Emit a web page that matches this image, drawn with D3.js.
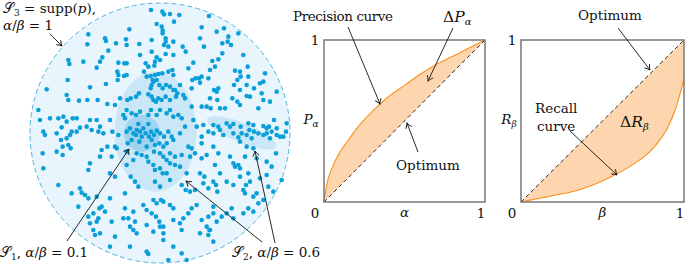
<!DOCTYPE html>
<html><head><meta charset="utf-8">
<script src="https://cdn.jsdelivr.net/npm/d3@7/dist/d3.min.js"></script>
<style>
html,body{margin:0;padding:0;background:#fff;}
</style></head>
<body><svg id="c" width="685" height="264"></svg>
<script>
// ---- Data ----
// sample points in feature space (arbitrary units, 870 x 792 frame)
const points = [
[453,30],[487,35],[492,43],[510,42],[538,45],[627,48],
[470,72],[522,65],[605,82],[672,85],[715,100],[485,80],[488,92],[488,100],[388,88],[650,95],
[265,103],[315,115],[318,123],[348,130],[378,118],[380,135],[418,132],[455,120],[497,115],[497,125],[520,125],[492,135],[505,140],[548,140],[557,155],[600,115],[612,140],[667,130],[683,125],[685,110],[262,133],[325,152],[455,155],[420,165],[693,135],
[470,172],[497,162],[520,165],[437,190],[445,200],[465,185],[463,197],[480,180],[355,188],[380,190],[373,190],[307,172],[300,185],[290,203],[205,180],[208,192],[250,185],[637,183],[655,178],[667,160],[730,165],[743,200],[565,205],[580,188],[597,235],[605,230],[625,235],[630,210],[645,200],[705,212],[720,215],[745,230],
[352,215],[355,225],[353,240],[372,228],[380,225],[432,215],[440,230],[452,228],[465,225],[475,222],[487,220],[505,215],[517,210],[520,225],[470,240],[458,240],[478,255],[455,255],[452,265],[488,265],[498,255],[510,260],[520,270],[540,255],[577,240],[587,235],[600,248],[575,265],[203,240],[270,262],[318,252],[460,245],[642,270],[655,265],[702,255],[712,240],[722,230],[740,255],[762,265],[780,250],[790,245],[795,220],[785,280],[830,275],[720,270],
[140,268],[115,330],[200,285],[205,300],[237,302],[262,300],[293,300],[322,312],[345,315],[360,295],[382,300],[392,295],[408,290],[417,280],[445,283],[455,290],[460,300],[475,295],[468,305],[485,300],[497,290],[510,300],[528,290],[532,280],[525,270],[550,285],[555,295],[575,320],[605,320],[620,320],[630,295],[632,325],[652,300],[660,325],[675,325],[697,295],[712,305],[740,288],[750,290],[790,300],[810,305],[720,315],[775,325],[650,275],
[120,360],[150,355],[175,355],[190,350],[200,365],[218,355],[230,355],[270,360],[290,360],[330,360],[370,345],[375,355],[380,330],[395,340],[408,345],[420,335],[445,345],[453,330],[470,345],[480,330],[500,340],[510,330],[520,350],[535,345],[545,355],[580,360],[555,380],[590,380],[610,375],[640,375],[655,380],[680,370],[690,380],[700,372],[722,380],[745,370],[760,375],[790,378],[800,385],[807,380],[830,385],[860,370],[822,360],[858,395],
[130,395],[135,405],[170,400],[185,382],[200,415],[215,395],[210,405],[183,420],[205,435],[188,440],[212,445],[230,395],[240,383],[260,380],[275,390],[300,380],[295,395],[310,400],[337,395],[355,405],[345,440],[350,445],[322,440],[305,450],[380,395],[390,385],[400,400],[410,390],[420,395],[425,410],[437,400],[447,410],[453,395],[462,405],[470,392],[480,400],[492,410],[505,395],[515,410],[520,420],[540,400],[455,420],[465,435],[478,430],[490,440],[500,430],[440,440],[418,425],[395,420],[383,430],[408,405],[430,385],[445,372],[415,372],
[605,410],[625,395],[640,400],[660,390],[670,405],[700,400],[715,412],[725,400],[740,405],[748,390],[755,415],[762,395],[775,400],[790,405],[800,400],[810,415],[815,395],[830,405],[840,410],[850,410],[720,425],[740,440],[760,445],[605,430],[640,440],[565,440],[575,445],
[128,460],[170,455],[188,465],[270,490],[300,470],[335,470],[380,455],[410,460],[425,465],[440,470],[462,455],[480,460],[490,470],[500,480],[510,460],[525,470],[545,465],[570,470],[585,460],[605,475],[620,465],[655,460],[690,470],[645,495],[700,490],[705,500],[715,495],[720,505],[735,470],[770,475],[800,485],[828,460],[815,500],
[380,495],[400,480],[445,485],[460,495],[465,510],[480,505],[488,520],[500,520],[510,490],[525,495],[540,500],[560,520],[600,520],[613,530],[660,520],[745,520],[720,530],[750,545],[780,535],[800,525],[265,510],[130,505],[175,555],[330,520],[345,530],[392,530],
[405,545],[415,560],[465,545],[480,560],[510,540],[545,555],[557,570],[570,575],[585,570],[610,550],[625,565],[640,545],[648,555],[652,575],[680,545],[700,555],[735,580],[730,570],[738,555],[770,580],[805,560],[820,575],[845,540],[240,565],[245,578],[255,585],[265,595],[290,590],[330,595],[375,580],[235,620],[215,580],
[460,600],[470,610],[483,600],[490,605],[430,615],[440,630],[510,615],[520,625],[375,625],[370,655],[400,635],[385,655],[405,665],[305,620],[315,635],[298,625],[280,640],[295,655],[265,650],[270,670],[290,665],[335,665],[390,680],[455,640],[468,650],[478,665],[480,680],[490,680],[520,660],[540,670],[550,655],[565,640],[575,625],[590,615],[605,660],[625,650],[640,620],[640,640],[650,665],[665,650],[680,640],[695,625],[700,655],[730,640],[745,625],[760,635],[628,690],[620,680],[760,590],[775,610],[790,600],
[280,690],[285,705],[300,700],[345,710],[400,690],[410,700],[440,675],[460,695],[490,700],[545,690],[600,700],[625,705],[640,725],[440,755],[445,762],[390,740],[330,740],[490,720],[520,740],[545,760],[630,690],[560,780],[505,780]
];
// support regions (feature space)
const supportCircle = {cx:480, cy:399, r:390};
const regionS2 = {cx:467, cy:395, rx:123, ry:180, rot:0};
const regionS1 = {cx:426, cy:400, rx:54, ry:55, rot:0};
const regionS2b = {cx:725, cy:398, rx:112, ry:30, rot:22};

// precision curve
const alphaVals = [0,0.02,0.05,0.1,0.15,0.2,0.3,0.4,0.5,0.6,0.7,0.8,0.9,1];
const precVals  = [0,0.12,0.21,0.31,0.38,0.45,0.56,0.65,0.72,0.79,0.85,0.9,0.95,1];
// recall curve
const betaVals  = [0,0.1,0.2,0.3,0.4,0.5,0.6,0.7,0.8,0.85,0.9,0.95,1];
const recVals   = [0,0.02,0.04,0.06,0.09,0.13,0.18,0.24,0.32,0.38,0.46,0.58,0.76];
const tickLabels = ["0","1"];

// ---- Drawing ----
const FONT = "'DejaVu Serif', 'Liberation Serif', serif";
const svg = d3.select("#c").attr("font-family", FONT);
const defs = svg.append("defs");
defs.append("marker").attr("id","arr").attr("viewBox","-6 -5 7 10")
  .attr("refX",0).attr("refY",0).attr("markerWidth",7).attr("markerHeight",10)
  .attr("markerUnits","userSpaceOnUse").attr("orient","auto")
  .append("path").attr("d","M-5,-3.2 Q-2,-0.6 0,0 Q-2,0.6 -5,3.2")
  .attr("fill","none").attr("stroke","#111").attr("stroke-width",0.9);

function arrow(x1,y1,x2,y2){
  svg.append("line").attr("x1",x1).attr("y1",y1).attr("x2",x2).attr("y2",y2)
    .attr("stroke","#111").attr("stroke-width",0.9).attr("marker-end","url(#arr)");
}
function txt(x,y,size){
  return svg.append("text").attr("x",x).attr("y",y).attr("font-size",size)
    .attr("font-family",FONT).attr("fill","#111");
}

// left panel
const fx = d3.scaleLinear().domain([0,870]).range([0,290]);
const fy = d3.scaleLinear().domain([0,792]).range([0,264]);
const fr = v => fx(v) - fx(0);
const left = svg.append("g");
left.append("circle").attr("cx",fx(supportCircle.cx)).attr("cy",fy(supportCircle.cy)).attr("r",fr(supportCircle.r))
  .attr("fill","#e9f5fc").attr("stroke","#4fb3e0").attr("stroke-width",1).attr("stroke-dasharray","5,3");
function ell(e,fill){
  left.append("ellipse").attr("cx",0).attr("cy",0).attr("rx",fr(e.rx)).attr("ry",fr(e.ry))
    .attr("transform",`translate(${fx(e.cx)},${fy(e.cy)}) rotate(${e.rot})`)
    .attr("fill",fill);
}
ell(regionS2,"rgba(120,195,235,0.28)");
ell(regionS2b,"rgba(120,195,235,0.28)");
ell(regionS1,"rgba(80,175,225,0.35)");
left.selectAll("circle.pt").data(points).join("circle").attr("class","pt")
  .attr("cx",d=>fx(d[0])).attr("cy",d=>fy(d[1])).attr("r",2.3).attr("fill","#0a9fd8");

// left labels
const fs = 13.5;
const t3 = txt(3,13,fs);
t3.append("tspan").text("𝒮");
t3.append("tspan").attr("font-size",9).attr("dy",3).text("3");
t3.append("tspan").attr("dy",-3).text(" = supp(");
t3.append("tspan").attr("font-style","italic").text("p");
t3.append("tspan").text("),");
const t3b = txt(3,30,fs);
t3b.append("tspan").attr("font-style","italic").text("α");
t3b.append("tspan").text("/");
t3b.append("tspan").attr("font-style","italic").text("β");
t3b.append("tspan").text(" = 1");
arrow(50,34,62,46);

function sLabel(x,y,sub,val){
  const t = txt(x,y,fs);
  t.append("tspan").text("𝒮");
  t.append("tspan").attr("font-size",9).attr("dy",3).text(sub);
  t.append("tspan").attr("dy",-3).text(", ");
  t.append("tspan").attr("font-style","italic").text("α");
  t.append("tspan").text("/");
  t.append("tspan").attr("font-style","italic").text("β");
  t.append("tspan").text(" = " + val);
}
sLabel(0,257,"1","0.1");
sLabel(232,257,"2","0.6");
arrow(67,241,129,149);
arrow(262,242,186,181);
arrow(275,243,255,151);

// generic panel
function panel(x0,x1,y0,y1){
  const x = d3.scaleLinear().domain([0,1]).range([x0,x1]);
  const y = d3.scaleLinear().domain([0,1]).range([y1,y0]);
  return {x,y};
}
function drawPanel(p, xs, ys, xLab, yLab, ySub, yLabOff){
  const g = svg.append("g");
  const pts = xs.map((v,i)=>[v,ys[i]]);
  g.append("path").datum(pts)
    .attr("d",d3.area().x(d=>p.x(d[0])).y0(d=>p.y(d[0])).y1(d=>p.y(d[1])).curve(d3.curveMonotoneX))
    .attr("fill","#fdd6b0").attr("stroke","none");
  g.append("path").datum(pts).attr("d",d3.line().x(d=>p.x(d[0])).y(d=>p.y(d[1])).curve(d3.curveMonotoneX))
    .attr("fill","none").attr("stroke","#f7931e").attr("stroke-width",1.1);
  g.append("line").attr("x1",p.x(0)).attr("y1",p.y(0)).attr("x2",p.x(1)).attr("y2",p.y(1))
    .attr("stroke","#111").attr("stroke-width",0.9).attr("stroke-dasharray","4,3");
  g.append("rect").attr("x",p.x(0)).attr("y",p.y(1)).attr("width",p.x(1)-p.x(0)).attr("height",p.y(0)-p.y(1))
    .attr("fill","none").attr("stroke","#777").attr("stroke-width",1.5);
  txt(p.x(0)-9,p.y(1)+5,fs).attr("text-anchor","middle").text(tickLabels[1]);
  txt(p.x(0)-9,p.y(0)+16,fs).attr("text-anchor","middle").text(tickLabels[0]);
  txt(p.x(1)-4,p.y(0)+16,fs).attr("text-anchor","middle").text(tickLabels[1]);
  txt(p.x(0.5),p.y(0)+15,fs).attr("font-style","italic").attr("text-anchor","middle").text(xLab);
  const yl = txt(p.x(0)-yLabOff,p.y(0.5)+3,fs).attr("text-anchor","middle");
  yl.append("tspan").attr("font-style","italic").text(yLab);
  yl.append("tspan").attr("font-style","italic").attr("font-size",9).attr("dy",3).text(ySub);
  return g;
}
const pP = panel(324,485,40,202);
drawPanel(pP, alphaVals, precVals, "α", "P", "α", 13);
const pR = panel(521,684,40,202);
drawPanel(pR, betaVals, recVals, "β", "R", "β", 12);

// precision annotations
txt(293,21,fs).attr("textLength",100).text("Precision curve");
arrow(348,27,380,104);
const dp = txt(443,22,15.5);
dp.append("tspan").text("Δ");
dp.append("tspan").attr("font-style","italic").text("P");
dp.append("tspan").attr("font-style","italic").attr("font-size",10).attr("dy",3).text("α");
arrow(453,28,428,81);
txt(396,170,fs).text("Optimum");
arrow(418,152,407,123);

// recall annotations
txt(578,20,fs).text("Optimum");
arrow(618,28,650,70);
txt(535,113,fs).text("Recall");
txt(537,131,fs).text("curve");
arrow(570,131,617,175);
const dr = txt(620,127,15.5);
dr.append("tspan").text("Δ");
dr.append("tspan").attr("font-style","italic").text("R");
dr.append("tspan").attr("font-style","italic").attr("font-size",10).attr("dy",3).text("β");
</script></body></html>
